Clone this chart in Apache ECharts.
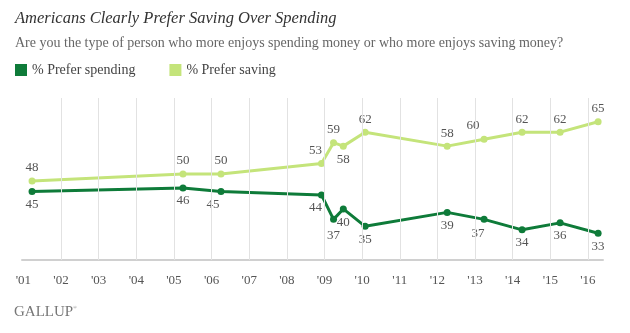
<!DOCTYPE html>
<html>
<head>
<meta charset="utf-8">
<script src="https://cdn.jsdelivr.net/npm/echarts@6/dist/echarts.min.js"></script>
<style>
html,body{margin:0;padding:0;background:#fff;}
#chart{width:630px;height:333px;}
</style>
</head>
<body>
<div id="chart"></div>
<script>
// Survey dates as fractional years
const dates = [2001.23, 2005.24, 2006.25, 2008.92, 2009.24, 2009.5, 2010.08, 2012.26, 2013.24, 2014.25, 2015.26, 2016.27];
const spending = [45, 46, 45, 44, 37, 40, 35, 39, 37, 34, 36, 33];
const saving = [48, 50, 50, 53, 59, 58, 62, 58, 60, 62, 62, 65];
const yearTicks = [2001, 2002, 2003, 2004, 2005, 2006, 2007, 2008, 2009, 2010, 2011, 2012, 2013, 2014, 2015, 2016];
const gridYears = [2002, 2003, 2004, 2005, 2006, 2007, 2008, 2009, 2010, 2011, 2012, 2013, 2014, 2015, 2016];
const seriesNames = ['% Prefer spending', '% Prefer saving'];

const DARK = '#0e7b39';
const LIGHT = '#c4e47a';
const SERIF = '"Liberation Serif", "DejaVu Serif", serif';

// label placement tweaks (index -> label options)
const spendLabelTweaks = {
  2: {offset: [-8, 0]},
  3: {offset: [-6, 0]},
  4: {offset: [0, 3]},
  5: {offset: [0, 1]},
  8: {offset: [-6, 1]}
};
const saveLabelTweaks = {
  3: {offset: [-6, 0]},
  5: {position: 'bottom'},
  8: {offset: [-11, -1]}
};

function build(values, tweaks) {
  return values.map((v, i) => {
    const item = {value: [dates[i], v]};
    if (tweaks[i]) item.label = tweaks[i];
    return item;
  });
}

const chart = echarts.init(document.getElementById('chart'), null, {renderer: 'canvas'});
chart.setOption({
  animation: false,
  backgroundColor: '#fff',
  title: {
    left: 10, top: 5,
    text: 'Americans Clearly Prefer Saving Over Spending',
    textStyle: {fontFamily: SERIF, fontStyle: 'italic', fontWeight: 'normal', fontSize: 16.5, color: '#333'},
    subtext: 'Are you the type of person who more enjoys spending money or who more enjoys saving money?',
    subtextStyle: {fontFamily: SERIF, fontSize: 14, color: '#666'},
    itemGap: 9
  },
  legend: {
    left: 10, top: 58,
    data: seriesNames,
    icon: 'rect',
    itemWidth: 12, itemHeight: 12,
    itemGap: 34,
    textStyle: {fontFamily: SERIF, fontSize: 14, color: '#444'}
  },
  grid: {left: 22, right: 27, top: 98, bottom: 73},
  xAxis: {
    type: 'value',
    min: 2000.963, max: 2016.40,
    axisLine: {show: true, lineStyle: {color: '#d0d0d0', width: 2}},
    axisTick: {show: false},
    splitLine: {show: false},
    axisLabel: {
      customValues: yearTicks,
      formatter: v => "'" + String(Math.round(v)).slice(2),
      fontFamily: SERIF, fontSize: 13, color: '#555', margin: 14
    }
  },
  yAxis: {
    type: 'value', min: 25.35, max: 71.8,
    show: false
  },
  series: [
    {
      name: 'grid', type: 'line', data: [], z: 1, silent: true,
      markLine: {
        silent: true, symbol: ['none', 'none'], label: {show: false},
        lineStyle: {color: '#e2e2e2', type: 'solid', width: 1},
        data: gridYears.map(y => ({xAxis: y}))
      }
    },
    {
      name: seriesNames[0], type: 'line', z: 3,
      data: build(spending, spendLabelTweaks),
      symbol: 'circle', symbolSize: 7,
      itemStyle: {color: DARK},
      lineStyle: {color: DARK, width: 3},
      label: {show: true, position: 'bottom', distance: 3, fontFamily: SERIF, fontSize: 13, color: '#555',
        formatter: p => p.value[1]}
    },
    {
      name: seriesNames[1], type: 'line', z: 2,
      data: build(saving, saveLabelTweaks),
      symbol: 'circle', symbolSize: 7,
      itemStyle: {color: LIGHT},
      lineStyle: {color: LIGHT, width: 3},
      label: {show: true, position: 'top', distance: 3, fontFamily: SERIF, fontSize: 13, color: '#555',
        formatter: p => p.value[1]}
    }
  ],
  graphic: [
    {type: 'text', left: 14, top: 305, style: {text: 'GALLUP', font: '15px "Liberation Serif", serif', fill: '#777'}},
    {type: 'text', left: 73, top: 305, style: {text: '®', font: '5px "Liberation Serif", serif', fill: '#777'}}
  ]
});
</script>
</body>
</html>
